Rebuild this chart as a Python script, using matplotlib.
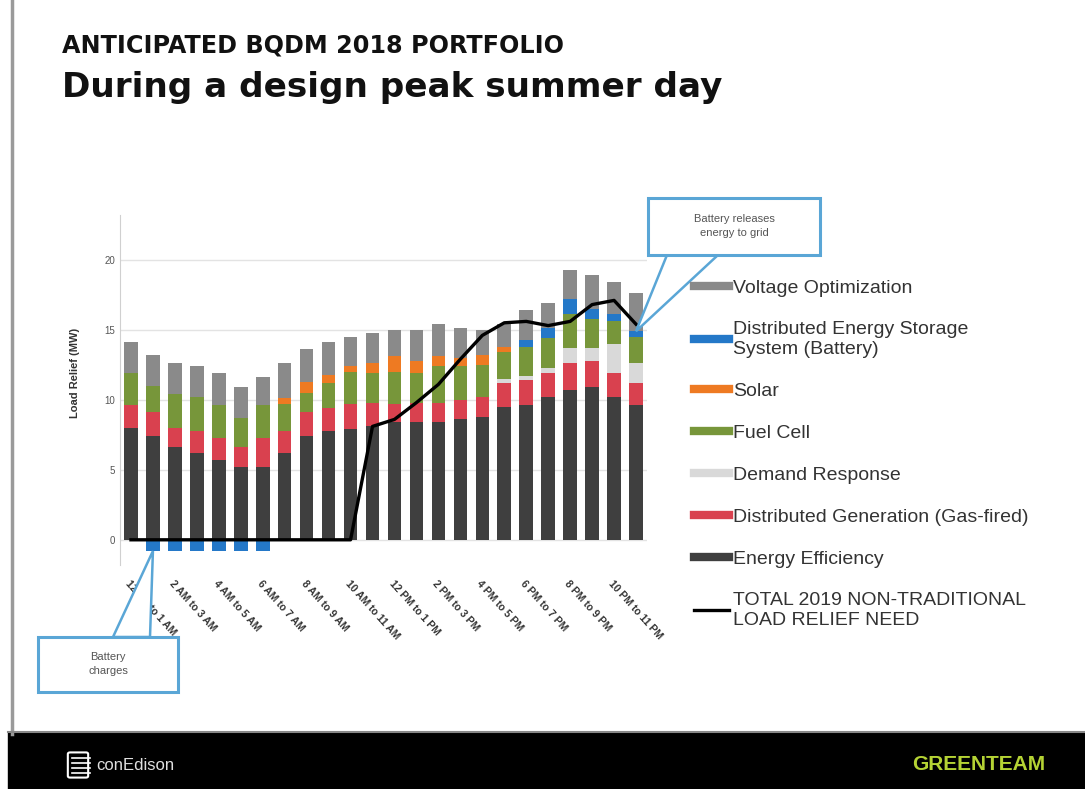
import numpy as np
import matplotlib.pyplot as plt
from matplotlib.lines import Line2D
from matplotlib.patches import Rectangle, Polygon, FancyBboxPatch

plt.rcParams['font.family'] = ['Liberation Sans', 'DejaVu Sans']

# hourly slots on the design day
hours = np.arange(24)
tick_labels = ['12 AM to 1 AM', '2 AM to 3 AM', '4 AM to 5 AM', '6 AM to 7 AM',
               '8 AM to 9 AM', '10 AM to 11 AM', '12 PM to 1 PM', '2 PM to 3 PM',
               '4 PM to 5 PM', '6 PM to 7 PM', '8 PM to 9 PM', '10 PM to 11 PM']

# load relief by resource (MW)
energy_eff = [8.0, 7.4, 6.6, 6.2, 5.7, 5.2, 5.2, 6.2, 7.4, 7.8, 7.9, 8.1,
              8.4, 8.4, 8.4, 8.6, 8.8, 9.5, 9.6, 10.2, 10.7, 10.9, 10.2, 9.6]
dist_gen = [1.6, 1.7, 1.4, 1.6, 1.6, 1.4, 2.1, 1.6, 1.7, 1.6, 1.8, 1.7,
            1.3, 1.4, 1.4, 1.4, 1.4, 1.7, 1.8, 1.7, 1.9, 1.9, 1.7, 1.6]
demand_resp = [0, 0, 0, 0, 0, 0, 0, 0, 0, 0, 0, 0,
               0, 0, 0, 0, 0, 0.3, 0.3, 0.4, 1.1, 0.9, 2.1, 1.4]
fuel_cell = [2.3, 1.9, 2.4, 2.4, 2.3, 2.1, 2.3, 1.9, 1.4, 1.8, 2.3, 2.1,
             2.3, 2.1, 2.6, 2.4, 2.3, 1.9, 2.1, 2.1, 2.4, 2.1, 1.6, 1.9]
solar = [0, 0, 0, 0, 0, 0, 0, 0.4, 0.8, 0.6, 0.4, 0.7,
         1.1, 0.9, 0.7, 0.6, 0.7, 0.4, 0, 0, 0, 0, 0, 0]
battery = [0, -0.8, -0.8, -0.8, -0.8, -0.8, -0.8, 0, 0, 0, 0, 0,
           0, 0, 0, 0, 0, 0, 0.5, 0.7, 1.1, 0.7, 0.5, 0.4]
volt_opt = [2.2, 2.2, 2.2, 2.2, 2.3, 2.2, 2.0, 2.5, 2.3, 2.3, 2.1, 2.2,
            1.9, 2.2, 2.3, 2.1, 1.8, 1.6, 2.1, 1.8, 2.1, 2.4, 2.3, 2.7]
relief_need = [0, 0, 0, 0, 0, 0, 0, 0, 0, 0, 0, 8.1,
               8.6, 9.8, 11.1, 12.9, 14.6, 15.5, 15.6, 15.3, 15.6, 16.8, 17.1, 15.4]

colors = {
    'ee': '#3f3f3f',
    'dg': '#d9414f',
    'dr': '#d9d9d9',
    'fc': '#77963a',
    'solar': '#ee7a22',
    'des': '#2478c8',
    'vo': '#8a8a8a',
}

W, H = 1085, 789
fig = plt.figure(figsize=(10.85, 7.89), dpi=100)
fig.patch.set_facecolor('white')

# slide frame and footer band
fig.add_artist(Line2D([12 / W, 12 / W], [0.07, 1.0], color='#9a9a9a', lw=2.5))
fig.add_artist(Rectangle((8 / W, 0), 1, 57 / H, color='black', zorder=1))
fig.add_artist(Line2D([8 / W, 1], [57 / H, 57 / H], color='#888888', lw=1.5))

fig.text(62 / W, 1 - 46 / H, 'ANTICIPATED BQDM 2018 PORTFOLIO', fontsize=17.2,
         fontweight='heavy', family=['DejaVu Sans'], va='center', ha='left', color='#111111')
fig.text(62 / W, 1 - 88 / H, 'During a design peak summer day', fontsize=24.7,
         fontweight='bold', family=['DejaVu Sans'], va='center', ha='left', color='#111111')

ax = fig.add_axes([120 / W, 1 - 565 / H, 527 / W, 350 / H])

x = hours
w = 0.62
ee = np.array(energy_eff)
dg = np.array(dist_gen)
dr = np.array(demand_resp)
fc = np.array(fuel_cell)
so = np.array(solar)
des = np.array(battery)
vo = np.array(volt_opt)

# stacked from the bottom: EE, DG, DR, fuel cell, solar, battery, VO
base = np.zeros(24)
ax.bar(x, ee, w, bottom=base, color=colors['ee'], zorder=2)
base = base + ee
ax.bar(x, dg, w, bottom=base, color=colors['dg'], zorder=2)
base = base + dg
ax.bar(x, dr, w, bottom=base, color=colors['dr'], zorder=2)
base = base + dr
ax.bar(x, fc, w, bottom=base, color=colors['fc'], zorder=2)
base = base + fc
ax.bar(x, so, w, bottom=base, color=colors['solar'], zorder=2)
base = base + so
# charging hours hang below zero
des_bottom = np.where(des > 0, base, 0)
ax.bar(x, des, w, bottom=des_bottom, color=colors['des'], zorder=2)
base = base + np.clip(des, 0, None)
ax.bar(x, vo, w, bottom=base, color=colors['vo'], zorder=2)

ax.plot(x, relief_need, color='black', lw=2.4, zorder=3)

ax.set_xlim(-0.5, 23.5)
ax.set_ylim(-1.8, 23.2)
ax.set_yticks([0, 5, 10, 15, 20])
ax.yaxis.grid(True, color='#e3e3e3', lw=1)
ax.set_axisbelow(True)
for side in ['top', 'right', 'bottom']:
    ax.spines[side].set_visible(False)
ax.spines['left'].set_color('#d0d0d0')
ax.tick_params(axis='y', length=0, labelsize=7, labelcolor='#555555')
ax.set_ylabel('Load Relief (MW)', fontsize=8, color='#333333', fontweight='bold')
ax.yaxis.set_label_coords(-0.075, 0.55)

ax.set_xticks(hours[::2])
ax.set_xticklabels(tick_labels, rotation=-48, ha='left', rotation_mode='anchor',
                   fontsize=7.5, color='#333333', fontweight='bold')
ax.tick_params(axis='x', length=0, pad=10)

# legend, top entry first
handles = [
    Line2D([], [], color=colors['vo'], lw=6),
    Line2D([], [], color=colors['des'], lw=6),
    Line2D([], [], color=colors['solar'], lw=6),
    Line2D([], [], color=colors['fc'], lw=6),
    Line2D([], [], color=colors['dr'], lw=6),
    Line2D([], [], color=colors['dg'], lw=6),
    Line2D([], [], color=colors['ee'], lw=6),
    Line2D([], [], color='black', lw=2.4),
]
labels = ['Voltage Optimization', 'Distributed Energy Storage\nSystem (Battery)', 'Solar',
          'Fuel Cell', 'Demand Response', 'Distributed Generation (Gas-fired)',
          'Energy Efficiency', 'TOTAL 2019 NON-TRADITIONAL\nLOAD RELIEF NEED']
fig.legend(handles, labels, loc='upper left', bbox_to_anchor=(676 / W, 1 - 262 / H),
           frameon=False, fontsize=14, labelspacing=1.25, handlelength=1.8,
           handletextpad=0.25, labelcolor='#333333')


def callout(text, box_px, base_px, apex_xy):
    """Box with a wedge pointing at a data point; box_px = (x0, y0, x1, y1) from top-left."""
    x0, y0, x1, y1 = box_px
    apex = fig.transFigure.inverted().transform(ax.transData.transform(apex_xy))
    (bx0, by), (bx1, _) = base_px
    wedge = Polygon([(bx0 / W, 1 - by / H), (bx1 / W, 1 - by / H), tuple(apex)],
                    closed=True, fc='white', ec='#5aa6d6', lw=1.8, zorder=5,
                    transform=fig.transFigure)
    fig.add_artist(wedge)
    box = Rectangle((x0 / W, 1 - y1 / H), (x1 - x0) / W, (y1 - y0) / H, fc='white',
                    ec='#5aa6d6', lw=2.2, zorder=6, transform=fig.transFigure)
    fig.add_artist(box)
    fig.text((x0 + x1) / 2 / W, 1 - (y0 + y1) / 2 / H, text, fontsize=8, ha='center',
             va='center', color='#555555', zorder=7, linespacing=1.5)


callout('Battery releases\nenergy to grid', (648, 198, 820, 255),
        ((667, 255), (718, 255)), (23, base[23]))
callout('Battery\ncharges', (38, 637, 178, 692),
        ((113, 637), (150, 637)), (1, battery[1]))

# footer branding
logo = FancyBboxPatch((70 / W, 1 - 776 / H), 16 / W, 22 / H,
                      boxstyle='round,pad=0.002', fc='none', ec='white', lw=1.5,
                      transform=fig.transFigure, zorder=3)
fig.add_artist(logo)
for yy in [758, 763, 768, 773]:
    fig.add_artist(Line2D([72 / W, 90 / W], [1 - yy / H, 1 - yy / H], color='white',
                          lw=1.2, zorder=3))
fig.text(96 / W, 1 - 765 / H, 'conEdison', fontsize=12, color='#e0e0e0', va='center',
         ha='left', zorder=3)
fig.text(1045 / W, 1 - 765 / H, 'GREENTEAM', fontsize=15, color='#b5d334',
         fontweight='bold', va='center', ha='right', zorder=3)

fig.savefig('out.png', dpi=100, facecolor='white')
